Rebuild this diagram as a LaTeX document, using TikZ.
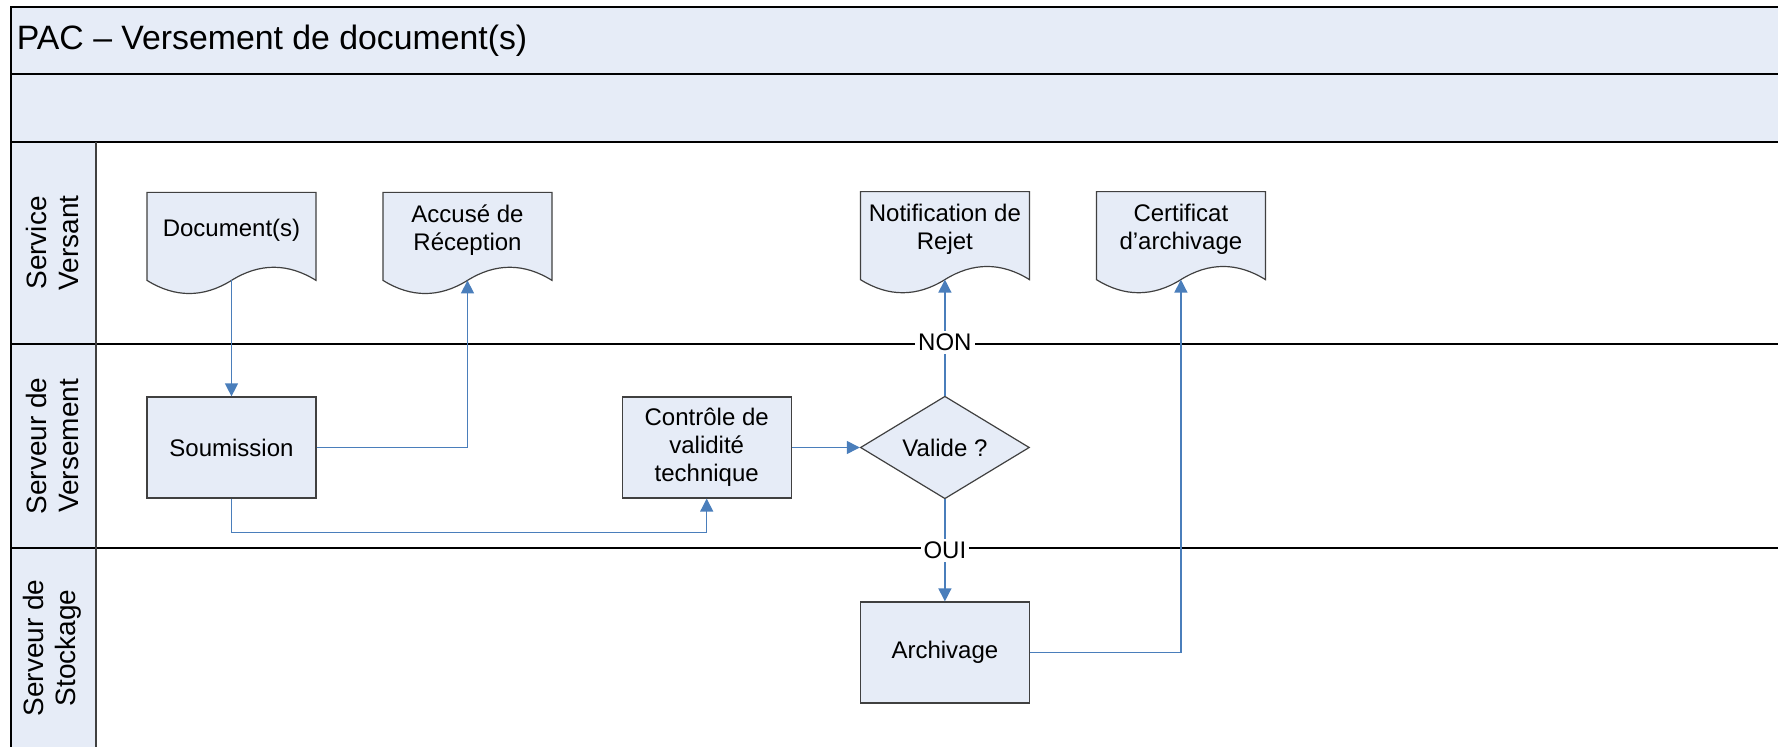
\documentclass[tikz,border=0pt]{standalone}
\usepackage{fontspec}
\setmainfont{Liberation Sans}
\usepackage{tikz}
\usetikzlibrary{arrows.meta,positioning,shapes.geometric,calc,backgrounds}
\definecolor{boxfill}{HTML}{E6ECF7}
\definecolor{boxline}{HTML}{404040}
\definecolor{flowblue}{HTML}{4A7EBB}

\begin{document}
\begin{tikzpicture}[
        x=0.5pt, y=-0.5pt,
        box/.style={rectangle,draw=boxline,fill=boxfill,line width=0.6pt,minimum width=84.5pt,minimum height=50.5pt,align=center,font=\fontsize{12}{14}\selectfont},
        doc/.style={rectangle,outer sep=0pt,minimum width=84.5pt,minimum height=37.5pt,align=center,font=\fontsize{12}{14}\selectfont},
        docline/.style={draw=boxline,fill=boxfill,line width=0.6pt},
        decision/.style={diamond,draw=boxline,fill=boxfill,line width=0.6pt,inner sep=0pt,minimum width=84.5pt,minimum height=50pt,font=\fontsize{12}{14}\selectfont},
        arrow/.style={-{Triangle[length=6.5pt,width=6.5pt]},draw=flowblue,line width=0.65pt},
        choix/.style={fill=white,inner sep=1.5pt,font=\fontsize{12}{14}\selectfont},
        lane/.style={rotate=90,align=center,font=\fontsize{14}{16}\selectfont},
        frame/.style={line width=0.75pt}
    ]
        \useasboundingbox (0,0) rectangle (1778,747);

        % bandeaux et couloirs
        \fill[boxfill] (11,7) rectangle (1778,142);
        \fill[boxfill] (11,142) rectangle (96,747);
        \draw[frame] (1778,7) -- (11,7) -- (11,747);
        \draw[frame] (11,74) -- (1778,74);
        \draw[frame] (11,142) -- (1778,142);
        \draw[frame] (11,344) -- (1778,344);
        \draw[frame] (11,548) -- (1778,548);
        \draw[line width=0.6pt,draw=boxline] (96,142) -- (96,747);

        \node[anchor=base west,inner sep=0pt,font=\fontsize{16.9}{19}\selectfont] (titre) at (16.5,50) {PAC -- Versement de document(s)};
        \node[lane] (versant) at (52,243) {Service\\Versant};
        \node[lane] (versement) at (52,446) {Serveur de\\Versement};
        \node[lane] (stockage) at (52,648) {Serveur de\\Stockage};

        % etapes
        \node[box] (soum) at (231.5,447.5) {Soumission};
        \node[box, right=152.5pt of soum] (ctrl) {Contrôle de\\validité\\technique};
        \node[decision, right=34pt of ctrl] (valide) {Valide ?};
        \node[box, below=51pt of valide] (arch) {Archivage};

        \node[doc, above=64.5pt of soum] (documents) {Document(s)};
        \node[doc, right=33.5pt of documents] (accuse) {Accusé de\\Réception};
        \node[doc, above=64.5pt of valide] (rejet) {Notification de\\Rejet};
        \node[doc, right=33.5pt of rejet] (certif) {Certificat\\d’archivage};

        % forme document
        \begin{scope}[on background layer]
            \foreach \n in {documents,accuse,rejet,certif} {
                \coordinate (\n-w) at ($(\n.south)+(0,13)$);
                \draw[docline] (\n.north west) -- (\n.north east) -- ($(\n.south east)+(0,13)$)
                    .. controls +(-28,-17.5) and +(28,-17.5) .. (\n-w)
                    .. controls +(-28,17.5) and +(28,17.5) .. ($(\n.south west)+(0,13)$) -- cycle;
            }
        \end{scope}

        \draw[arrow] (documents-w) -- (soum.north);
        \draw[arrow] (soum.east) -| (accuse-w);
        \draw[arrow] (soum.south) -- ++(0,34) -| (ctrl.south);
        \draw[arrow] (ctrl.east) -- (valide.west);
        \draw[arrow] (valide.north) -- node[choix, pos=0.457] (non) {NON} (rejet-w);
        \draw[arrow] (valide.south) -- node[choix] (oui) {OUI} (arch.north);
        \draw[arrow] (arch.east) -| (certif-w);
    \end{tikzpicture}
\end{document}
